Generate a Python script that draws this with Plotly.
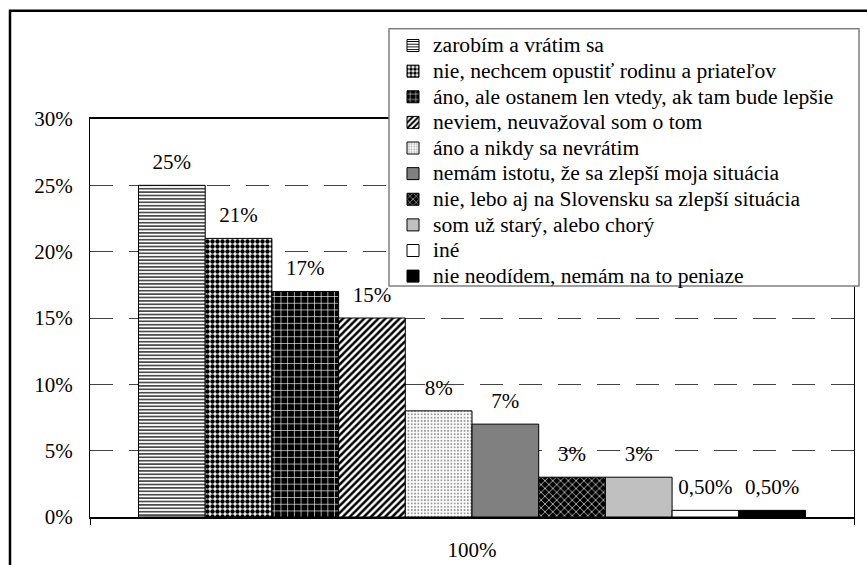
import plotly.graph_objects as go

# Survey answers, their shares and the printed value labels
answers = [
    "zarobím a vrátim sa",
    "nie, nechcem opustiť rodinu a priateľov",
    "áno, ale ostanem len vtedy, ak tam bude lepšie",
    "neviem, neuvažoval som o tom",
    "áno a nikdy sa nevrátim",
    "nemám istotu, že sa zlepší moja situácia",
    "nie, lebo aj na Slovensku sa zlepší situácia",
    "som už starý, alebo chorý",
    "iné",
    "nie neodídem, nemám na to peniaze",
]
shares = [0.25, 0.21, 0.17, 0.15, 0.08, 0.07, 0.03, 0.03, 0.005, 0.005]
value_labels = ["25%", "21%", "17%", "15%", "8%", "7%", "3%", "3%", "0,50%", "0,50%"]
category = "100%"
y_ticks = [0, 0.05, 0.10, 0.15, 0.20, 0.25, 0.30]

# Fill style for each answer: (pattern shape, foreground, background, size, solidity)
fills = [
    ("-", "black", "white", 3.4, 0.35),
    (".", "black", "white", 5, 0.62),
    ("+", "white", "black", 6.7, 0.18),
    ("/", "black", "white", 5, 0.5),
    (".", "#9a9a9a", "white", 3.3, 0.3),
    ("", None, "#808080", None, None),
    ("x", "white", "black", 5.5, 0.22),
    ("", None, "#c0c0c0", None, None),
    ("", None, "white", None, None),
    ("", None, "black", None, None),
]

FONT = "Liberation Serif"
W, H = 867, 565
L, R, T, B = 90, 854, 118.5, 517.5  # plot area edges in pixels
BARGAP = 0.127


def px_x(px):
    return (px - L) / (R - L)


def px_y(py):
    return (B - py) / (B - T)


fig = go.Figure()

for i, (name, val) in enumerate(zip(answers, shares)):
    shape, fg, bg, size, sol = fills[i]
    marker = dict(color=bg, line=dict(color="black", width=1))
    if shape:
        marker["pattern"] = dict(shape=shape, fgcolor=fg, bgcolor=bg,
                                 size=size, solidity=sol, fillmode="replace")
    fig.add_trace(go.Bar(
        x=[category], y=[val],
        name=f"<span style='font-size:21.6px'>{name}</span>",
        marker=marker, offsetgroup=str(i), hoverinfo="skip",
    ))

# value labels above each bar, aligned with the bar groups
for i, (val, lab) in enumerate(zip(shares, value_labels)):
    fig.add_trace(go.Scatter(
        x=[category], y=[val], mode="markers+text", text=[lab],
        textposition="top center", offsetgroup=str(i),
        marker=dict(size=16, opacity=0), showlegend=False, hoverinfo="skip",
        textfont=dict(family=FONT, size=21, color="black"), cliponaxis=False,
    ))

shapes = [
    # outer frame of the figure
    dict(type="rect", xref="paper", yref="paper",
         x0=px_x(10), x1=px_x(900), y0=px_y(620), y1=px_y(10),
         line=dict(color="black", width=2.5), fillcolor="rgba(0,0,0,0)", layer="below"),
    # legend box
    dict(type="rect", xref="paper", yref="paper",
         x0=px_x(389), x1=px_x(859), y0=px_y(286), y1=px_y(28),
         line=dict(color="#808080", width=1.5), fillcolor="white", layer="above"),
]

fig.update_layout(
    width=W, height=H,
    margin=dict(l=L, r=W - R, t=T, b=H - B, pad=0, autoexpand=False),
    paper_bgcolor="white", plot_bgcolor="white",
    barmode="group", bargap=BARGAP, bargroupgap=0,
    scattermode="group", scattergap=BARGAP,
    font=dict(family=FONT, size=21, color="black"),
    showlegend=True,
    legend=dict(
        x=px_x(393), y=px_y(27), xanchor="left", yanchor="top",
        xref="paper", yref="paper",
        bgcolor="rgba(0,0,0,0)", borderwidth=0,
        font=dict(family=FONT, size=17.4, color="black"),
        traceorder="normal",
    ),
    shapes=shapes,
)

fig.update_xaxes(
    type="category", showline=True, linecolor="black", linewidth=1.5, mirror=True,
    ticks="outside", ticklen=6, tickcolor="black", tickson="boundaries",
    showgrid=False, ticklabelstandoff=13, automargin=False,
    tickfont=dict(family=FONT, size=21, color="black"),
)
fig.update_yaxes(
    range=[0, 0.30], tickvals=y_ticks, tickformat=".0%",
    showline=True, linecolor="black", linewidth=1, mirror=True,
    ticks="", showgrid=True, gridcolor="#444444", gridwidth=1, griddash="23px,16px",
    zeroline=False, ticklabelstandoff=12, automargin=False,
    tickfont=dict(family=FONT, size=21, color="black"),
)

fig.write_html("out.html")
